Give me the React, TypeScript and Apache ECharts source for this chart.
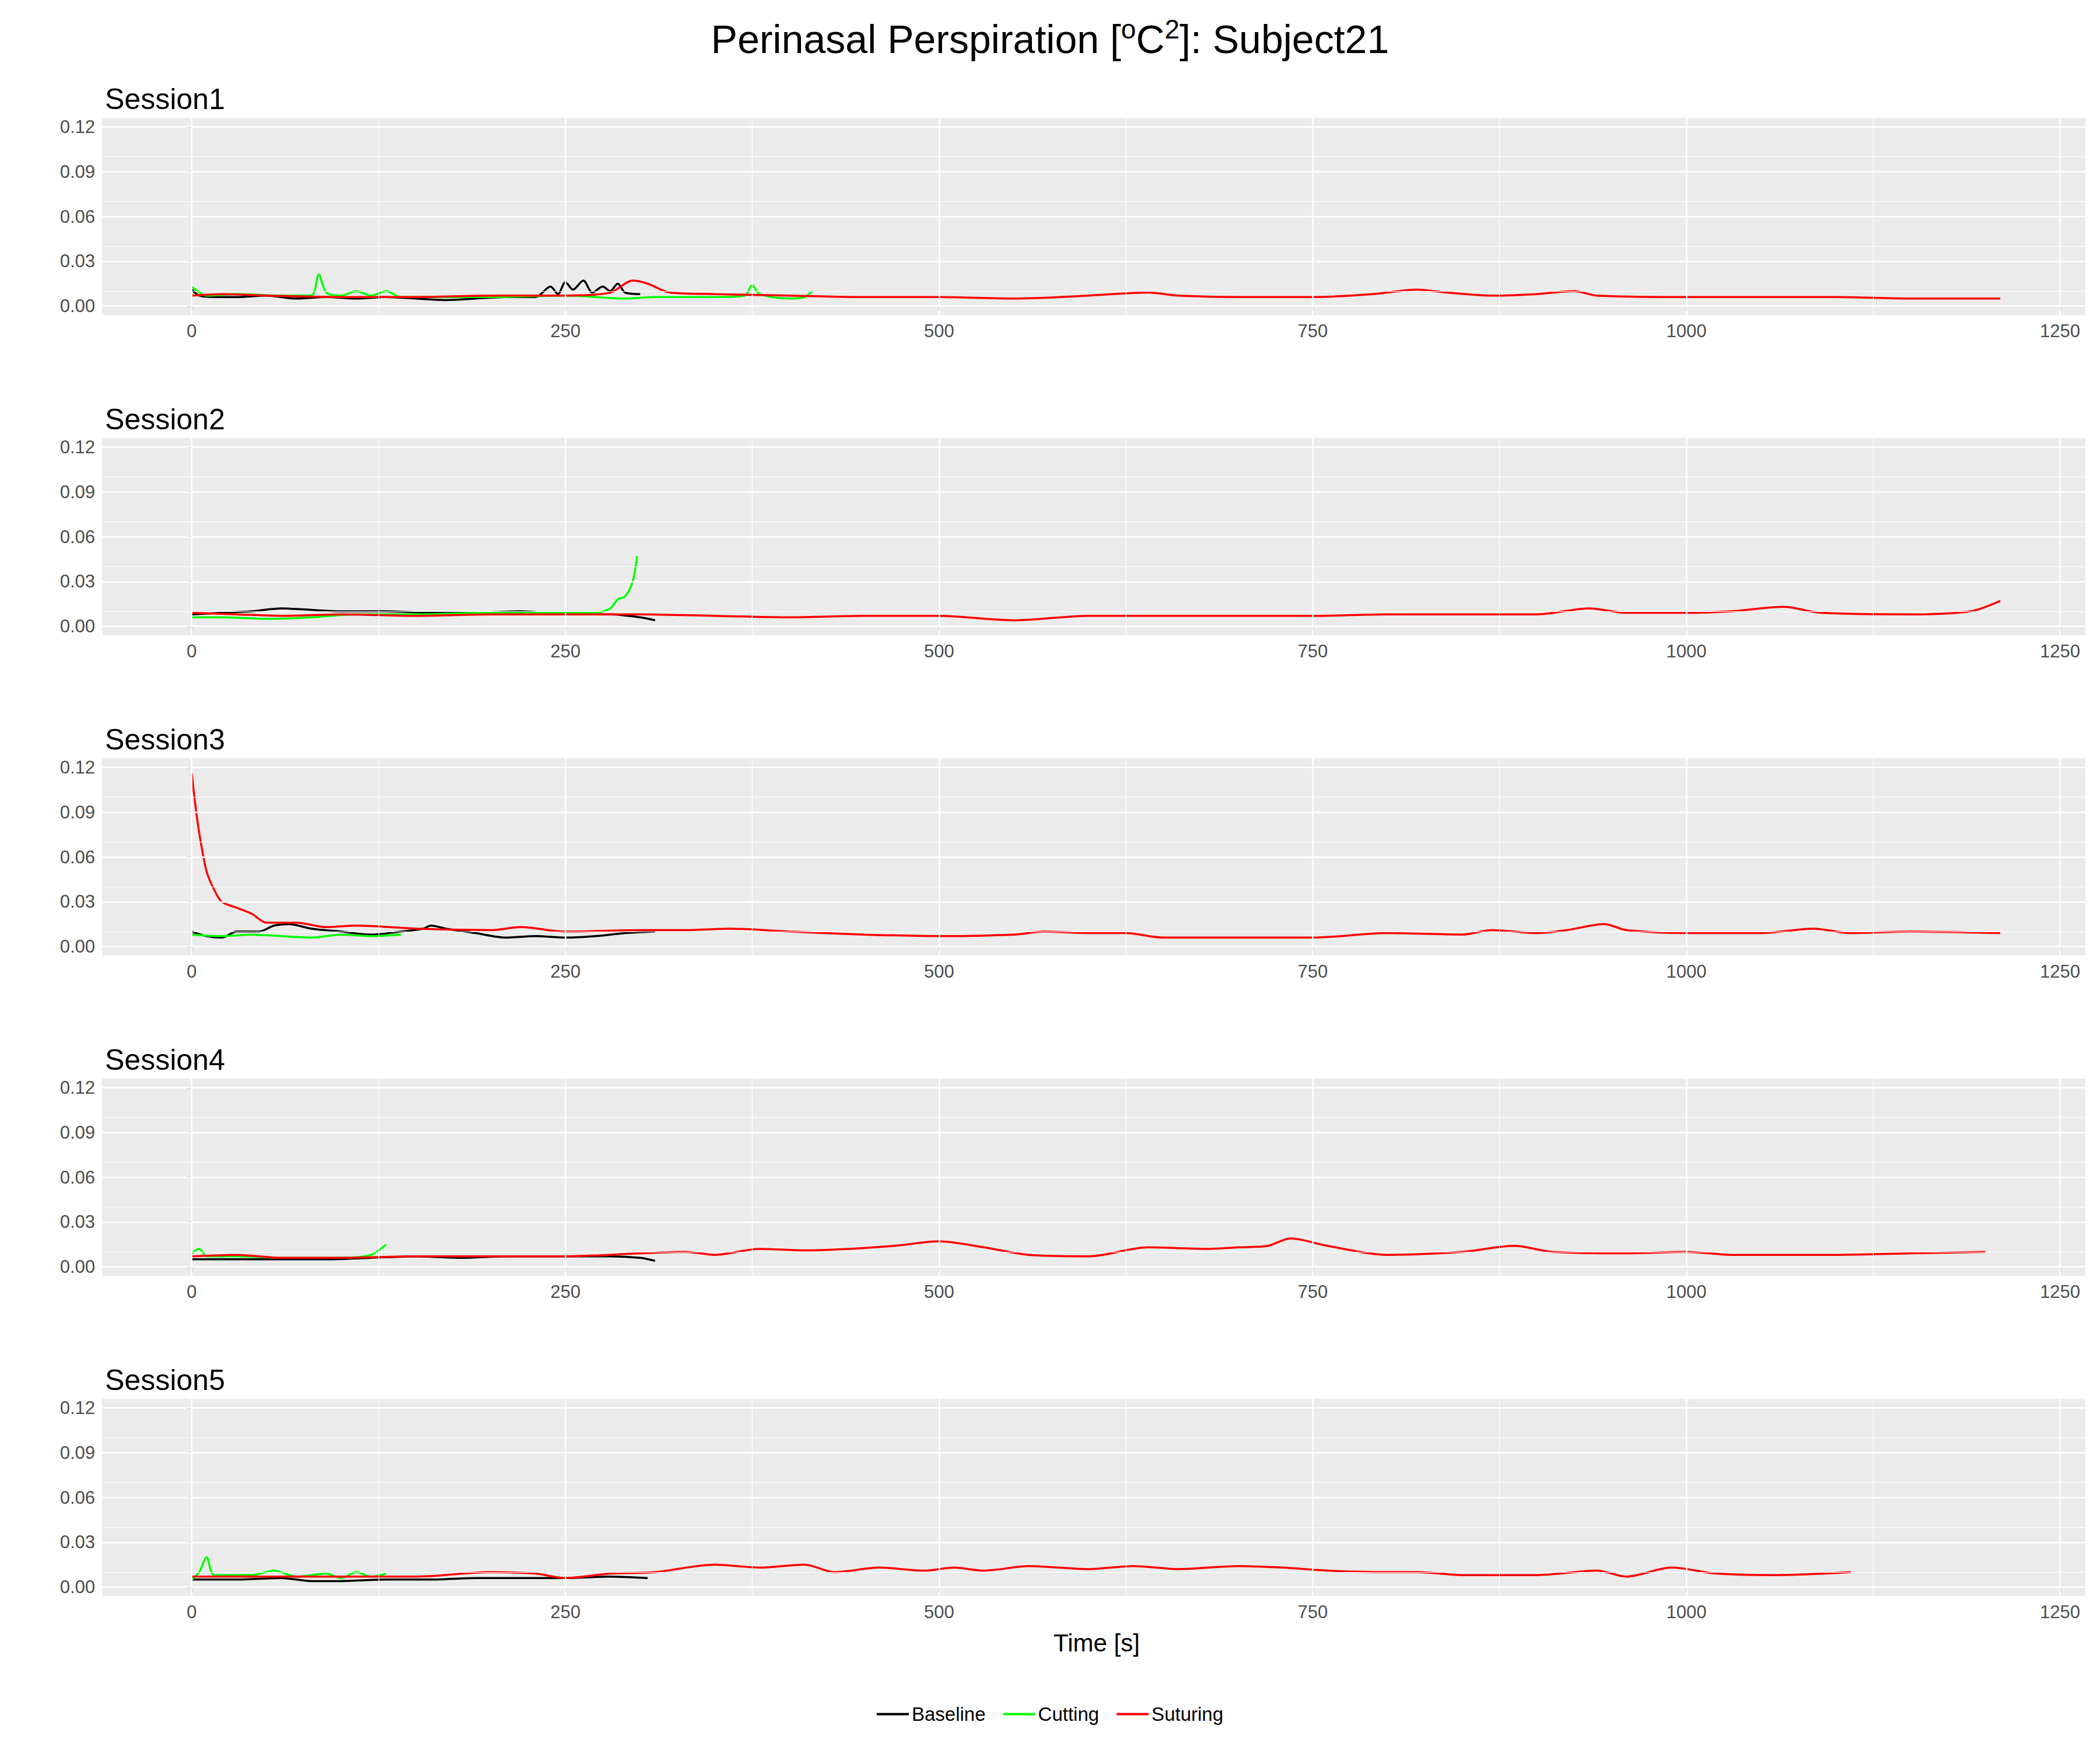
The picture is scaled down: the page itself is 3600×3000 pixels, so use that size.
import { useEffect, useRef } from 'react'
import * as echarts from 'echarts'

type Pt = [number, number]

const sessions = ['Session1', 'Session2', 'Session3', 'Session4', 'Session5']
const xTicks = [0, 250, 500, 750, 1000, 1250]
const yTicks = [0, 0.03, 0.06, 0.09, 0.12]

const baseline: Pt[][] = [
  [[0, 0.011], [5, 0.007], [15, 0.006], [30, 0.006], [50, 0.007], [70, 0.005], [90, 0.006], [110, 0.005], [130, 0.006], [150, 0.005], [170, 0.004], [190, 0.005], [210, 0.006], [230, 0.006], [240, 0.013], [245, 0.008], [250, 0.016], [255, 0.011], [262, 0.017], [268, 0.009], [275, 0.013], [280, 0.01], [285, 0.015], [290, 0.009], [300, 0.008]],
  [[0, 0.008], [20, 0.009], [40, 0.01], [60, 0.012], [80, 0.011], [100, 0.01], [130, 0.01], [160, 0.009], [190, 0.009], [220, 0.01], [250, 0.008], [280, 0.008], [300, 0.006], [310, 0.004]],
  [[0, 0.01], [10, 0.007], [20, 0.006], [30, 0.01], [45, 0.01], [55, 0.014], [65, 0.015], [80, 0.012], [100, 0.01], [120, 0.008], [140, 0.01], [155, 0.012], [160, 0.014], [170, 0.012], [190, 0.009], [210, 0.006], [230, 0.007], [250, 0.006], [270, 0.007], [290, 0.009], [310, 0.01]],
  [[0, 0.005], [30, 0.005], [60, 0.005], [90, 0.005], [120, 0.006], [150, 0.007], [180, 0.006], [210, 0.007], [250, 0.007], [280, 0.007], [300, 0.006], [310, 0.004]],
  [[0, 0.005], [30, 0.005], [60, 0.006], [80, 0.004], [100, 0.004], [130, 0.005], [160, 0.005], [190, 0.006], [220, 0.006], [250, 0.006], [280, 0.007], [305, 0.006]],
]

const cutting: Pt[][] = [
  [[0, 0.013], [10, 0.007], [30, 0.008], [60, 0.007], [80, 0.007], [85, 0.021], [90, 0.009], [100, 0.007], [110, 0.01], [120, 0.007], [130, 0.01], [140, 0.006], [160, 0.006], [200, 0.006], [250, 0.007], [290, 0.005], [310, 0.006], [350, 0.006], [370, 0.007], [375, 0.014], [380, 0.008], [400, 0.005], [410, 0.006], [415, 0.01]],
  [[0, 0.006], [20, 0.006], [50, 0.005], [80, 0.006], [110, 0.008], [150, 0.008], [200, 0.009], [250, 0.009], [270, 0.009], [280, 0.012], [285, 0.018], [290, 0.02], [295, 0.03], [298, 0.047]],
  [[0, 0.008], [20, 0.007], [40, 0.008], [60, 0.007], [80, 0.006], [100, 0.008], [120, 0.007], [140, 0.008]],
  [[0, 0.009], [5, 0.012], [10, 0.007], [30, 0.007], [60, 0.006], [100, 0.006], [120, 0.008], [130, 0.015]],
  [[0, 0.005], [5, 0.01], [10, 0.02], [15, 0.008], [40, 0.008], [55, 0.011], [70, 0.007], [90, 0.009], [100, 0.006], [110, 0.01], [120, 0.007], [130, 0.009]],
]

const suturing: Pt[][] = [
  [[0, 0.007], [20, 0.008], [50, 0.007], [100, 0.006], [150, 0.006], [200, 0.007], [250, 0.007], [280, 0.009], [295, 0.017], [305, 0.015], [320, 0.009], [350, 0.008], [400, 0.007], [450, 0.006], [500, 0.006], [550, 0.005], [600, 0.007], [640, 0.009], [660, 0.007], [700, 0.006], [750, 0.006], [790, 0.008], [820, 0.011], [840, 0.009], [870, 0.007], [900, 0.008], [925, 0.01], [940, 0.007], [1000, 0.006], [1050, 0.006], [1100, 0.006], [1150, 0.005], [1210, 0.005]],
  [[0, 0.009], [30, 0.008], [60, 0.007], [100, 0.008], [150, 0.007], [200, 0.008], [250, 0.008], [300, 0.008], [350, 0.007], [400, 0.006], [450, 0.007], [500, 0.007], [550, 0.004], [600, 0.007], [650, 0.007], [700, 0.007], [750, 0.007], [800, 0.008], [850, 0.008], [900, 0.008], [935, 0.012], [960, 0.009], [1000, 0.009], [1030, 0.01], [1065, 0.013], [1090, 0.009], [1150, 0.008], [1190, 0.01], [1210, 0.017]],
  [[0, 0.116], [3, 0.09], [6, 0.07], [10, 0.05], [15, 0.038], [20, 0.03], [30, 0.026], [40, 0.022], [50, 0.016], [70, 0.016], [90, 0.013], [110, 0.014], [150, 0.012], [200, 0.011], [220, 0.013], [250, 0.01], [300, 0.011], [330, 0.011], [360, 0.012], [400, 0.01], [450, 0.008], [500, 0.007], [550, 0.008], [570, 0.01], [600, 0.009], [625, 0.009], [650, 0.006], [700, 0.006], [750, 0.006], [800, 0.009], [850, 0.008], [870, 0.011], [900, 0.009], [920, 0.011], [945, 0.015], [960, 0.011], [1000, 0.009], [1050, 0.009], [1085, 0.012], [1110, 0.009], [1150, 0.01], [1210, 0.009]],
  [[0, 0.007], [30, 0.008], [60, 0.006], [100, 0.006], [150, 0.007], [200, 0.007], [250, 0.007], [300, 0.009], [330, 0.01], [350, 0.008], [380, 0.012], [410, 0.011], [440, 0.012], [470, 0.014], [500, 0.017], [530, 0.013], [560, 0.008], [600, 0.007], [640, 0.013], [680, 0.012], [700, 0.013], [720, 0.014], [735, 0.019], [760, 0.014], [800, 0.008], [850, 0.01], [885, 0.014], [910, 0.01], [960, 0.009], [1000, 0.01], [1030, 0.008], [1100, 0.008], [1150, 0.009], [1200, 0.01]],
  [[0, 0.007], [30, 0.007], [60, 0.007], [100, 0.007], [150, 0.007], [200, 0.01], [230, 0.009], [250, 0.006], [280, 0.009], [310, 0.01], [350, 0.015], [380, 0.013], [410, 0.015], [430, 0.01], [460, 0.013], [490, 0.011], [510, 0.013], [530, 0.011], [560, 0.014], [600, 0.012], [630, 0.014], [660, 0.012], [700, 0.014], [730, 0.013], [760, 0.011], [800, 0.01], [820, 0.01], [850, 0.008], [900, 0.008], [940, 0.011], [960, 0.007], [990, 0.013], [1020, 0.009], [1060, 0.008], [1110, 0.01]],
]

const FONT = 'Liberation Sans, Arial, sans-serif'
const LEFT = 175
const WIDTH = 3400
const TOP0 = 202
const STEP = 549
const PH = 338

export default function App() {
  const ref = useRef<HTMLDivElement>(null)

  useEffect(() => {
    document.body.style.margin = '0'
    if (!ref.current) return
    const chart = echarts.init(ref.current, undefined, { renderer: 'svg' })

    const grids: any[] = []
    const xAxes: any[] = []
    const yAxes: any[] = []
    const series: any[] = []
    const titles: any[] = [
      {
        text: 'Perinasal Perspiration [{sup|o}C{sup|2}]: Subject21',
        left: 'center',
        top: 22,
        textStyle: {
          fontFamily: FONT, fontSize: 68, fontWeight: 'normal', color: '#000',
          rich: { sup: { fontSize: 46, verticalAlign: 'top', padding: [0, 0, 34, 0], fontFamily: FONT, color: '#000' } },
        },
      },
    ]

    const majorX = xTicks.map((v) => ({ xAxis: v, lineStyle: { width: 2.5, color: '#fff', type: 'solid' } }))
    const minorX = [125, 375, 625, 875, 1125].map((v) => ({ xAxis: v, lineStyle: { width: 1.2, color: '#fff', type: 'solid' } }))
    const majorY = yTicks.map((v) => ({ yAxis: v, lineStyle: { width: 2.5, color: '#fff', type: 'solid' } }))
    const minorY = [0.015, 0.045, 0.075, 0.105].map((v) => ({ yAxis: v, lineStyle: { width: 1.2, color: '#fff', type: 'solid' } }))

    sessions.forEach((s, i) => {
      const top = TOP0 + i * STEP
      grids.push({ left: LEFT, width: WIDTH, top, height: PH, backgroundColor: '#EBEBEB', show: true, borderWidth: 0 })
      titles.push({ text: s, left: LEFT, top: top - 62, textStyle: { fontFamily: FONT, fontSize: 50, fontWeight: 'normal', color: '#000' } })
      xAxes.push({
        type: 'value', gridIndex: i, min: -60, max: 1267,
        axisLine: { show: false },
        axisTick: { show: true, customValues: xTicks, length: 8, lineStyle: { color: '#333', width: 2 } },
        axisLabel: { customValues: xTicks, color: '#4D4D4D', fontSize: 31, fontFamily: FONT, margin: 12, formatter: (v: number) => String(v) },
        splitLine: { show: false },
      })
      yAxes.push({
        type: 'value', gridIndex: i, min: -0.006, max: 0.126,
        axisLine: { show: false },
        axisTick: { show: true, customValues: yTicks, length: 8, lineStyle: { color: '#333', width: 2 } },
        axisLabel: { customValues: yTicks, color: '#4D4D4D', fontSize: 31, fontFamily: FONT, margin: 12, formatter: (v: number) => v.toFixed(2) },
        splitLine: { show: false },
      })
      series.push({
        type: 'line', xAxisIndex: i, yAxisIndex: i, data: [], silent: true, z: 1,
        markLine: { silent: true, symbol: 'none', label: { show: false }, data: [...minorX, ...minorY, ...majorX, ...majorY], animation: false },
      })
      const add = (name: string, data: Pt[], color: string) =>
        series.push({ name, type: 'line', xAxisIndex: i, yAxisIndex: i, data, showSymbol: false, symbol: 'none', smooth: 0.3, z: 3, lineStyle: { color, width: 3.5 }, itemStyle: { color } })
      add('Baseline', baseline[i], '#000000')
      add('Cutting', cutting[i], '#00FF00')
      add('Suturing', suturing[i], '#FF0000')
    })

    titles.push({ text: 'Time [s]', left: LEFT + WIDTH / 2, textAlign: 'center', top: 2790, textStyle: { fontFamily: FONT, fontSize: 42, fontWeight: 'normal', color: '#000' } })

    chart.setOption({
      animation: false,
      backgroundColor: '#fff',
      title: titles,
      grid: grids,
      xAxis: xAxes,
      yAxis: yAxes,
      legend: {
        data: ['Baseline', 'Cutting', 'Suturing'],
        bottom: 40,
        left: 'center',
        icon: 'rect',
        itemWidth: 55,
        itemHeight: 4,
        itemGap: 30,
        textStyle: { fontFamily: FONT, fontSize: 33, color: '#000' },
      },
      series,
    })
    return () => chart.dispose()
  }, [])

  return <div ref={ref} style={{ width: 3600, height: 3000 }} />
}
